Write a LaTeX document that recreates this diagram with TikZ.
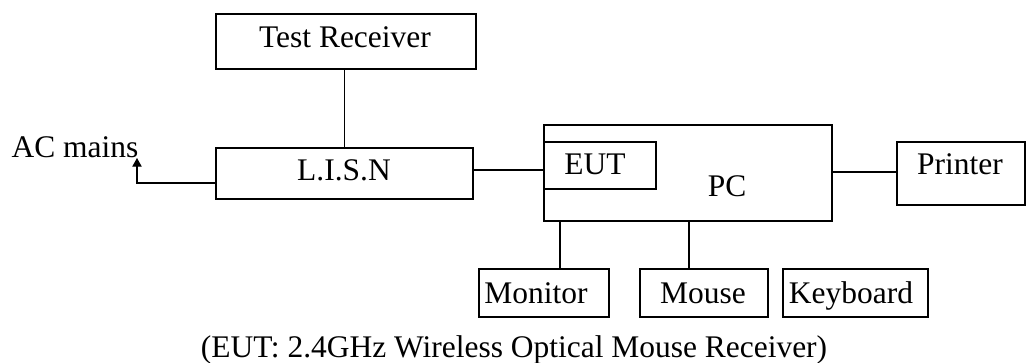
\documentclass[tikz,border=0pt]{standalone}
\usepackage{fontspec}
\setmainfont{Liberation Serif}
\usetikzlibrary{arrows.meta}
\begin{document}
\begin{tikzpicture}[x=0.75pt,y=-0.75pt,
  box/.style={draw, rectangle, inner sep=0pt, line width=0.9pt},
  lbl/.style={inner sep=0pt, anchor=base, font=\fontsize{23.6}{28}\selectfont},
  wire/.style={line width=0.9pt}]
\useasboundingbox (0,0) rectangle (1029,363);
% boxes
\node[box, minimum width=195pt, minimum height=41.25pt] (tr) at (346,41.5) {};
\node[box, minimum width=192.75pt, minimum height=38.25pt] (lisn) at (344.5,173.5) {};
\node[box, minimum width=216pt, minimum height=72pt] (pc) at (688,173) {};
\node[box, minimum width=84pt, minimum height=35.25pt] (eut) at (600,165.5) {};
\node[box, minimum width=96pt, minimum height=47.25pt] (pr) at (961,173.5) {};
\node[box, minimum width=97.5pt, minimum height=36pt] (mon) at (544,293) {};
\node[box, minimum width=96pt, minimum height=36pt] (mou) at (704,293) {};
\node[box, minimum width=108.75pt, minimum height=36pt] (kb) at (855.5,293) {};
% texts
\node[lbl] (trt) at (345,48) {Test Receiver};
\node[lbl] (lisnt) at (344,181) {L.I.S.N};
\node[lbl] (eutt) at (595,175) {EUT};
\node[lbl] (pct) at (727,197) {PC};
\node[lbl] (prt) at (960,175) {Printer};
\node[lbl] (mont) at (536,304) {Monitor};
\node[lbl] (mout) at (703,304) {Mouse};
\node[lbl] (kbt) at (851,304) {Keyboard};
\node[lbl] (ac) at (75,158) {AC mains};
\node[lbl] (cap) at (514,358) {(EUT: 2.4GHz Wireless Optical Mouse Receiver)};
% connectors
\coordinate (acend) at (137,158);
\draw[wire] (tr.south -| lisn.north) -- (lisn.north);
\draw[wire, -{Triangle[length=6.5pt,width=7pt]}] (lisn.west |- 0,183) -| (acend);
\draw[wire] (lisn.east |- 0,170) -- (pc.west |- 0,170);
\draw[wire] (pc.east |- 0,172) -- (pr.west |- 0,172);
\draw[wire] (pc.south -| 560,0) -- (mon.north -| 560,0);
\draw[wire] (pc.south -| 689,0) -- (mou.north -| 689,0);
\end{tikzpicture}
\end{document}
